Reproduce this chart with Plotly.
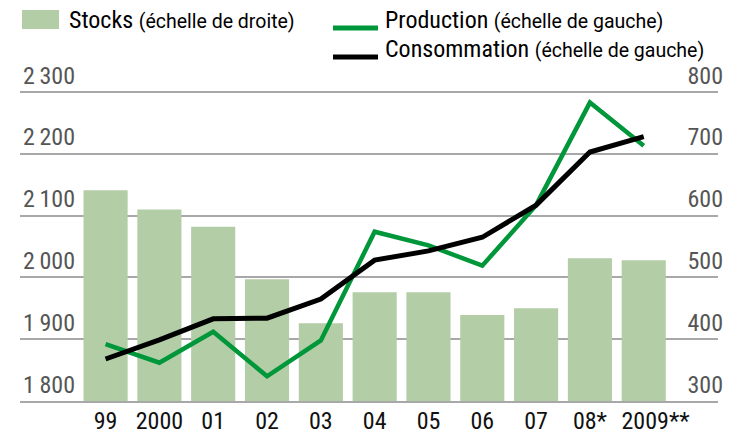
import plotly.graph_objects as go

# ---- data ----
categories = ["99", "2000", "01", "02", "03", "04", "05", "06", "07", "08*", "2009**"]
category_labels = ["99", "2000", "01", "02", "03", "04", "05", "06", "07", "08*",
                   "\u2007\u20072009**"]
stocks = [641, 610, 582, 497, 426, 476, 476, 439, 450, 531, 528]            # right scale
production = [1892, 1862, 1912, 1840, 1898, 2074, 2052, 2019, 2117, 2283, 2213]  # left scale
consommation = [1868, 1899, 1933, 1934, 1965, 2028, 2043, 2065, 2117, 2203, 2228]  # left scale
left_ticks = [1800, 1900, 2000, 2100, 2200, 2300]
left_ticktext = ["1\u2009800", "1\u2009900", "2\u2009000", "2\u2009100", "2\u2009200", "2\u2009300"]
right_ticks = [300, 400, 500, 600, 700, 800]

# the page body has an 8px default margin: figure is laid out in page coords minus 8
OFF = 8
W, H = 736 - OFF, 437 - OFF
ML, MR, MT, MB = 12, 18, 81, 36
PW, PH = W - ML - MR, H - MT - MB

def px(x):  # page pixel -> paper
    return (x - OFF - ML) / PW

def py(y):
    return (H - MB - (y - OFF)) / PH

FONT = "Roboto Condensed, Roboto, Liberation Sans, sans-serif"
SUBFONT = "Roboto, Liberation Sans, sans-serif"
BAR = "#b3cda6"
GREEN = "#00963a"
GRID = "#a8a8a8"

fig = go.Figure()
fig.add_trace(go.Bar(x=categories, y=stocks, marker=dict(color=BAR, line=dict(width=0)),
                     yaxis="y", name="Stocks"))
fig.add_trace(go.Scatter(x=categories, y=production, mode="lines", yaxis="y2",
                         line=dict(color=GREEN, width=4.5), name="Production"))
fig.add_trace(go.Scatter(x=categories, y=consommation, mode="lines", yaxis="y2",
                         line=dict(color="#000000", width=5), name="Consommation"))

fig.update_layout(
    width=W, height=H,
    margin=dict(l=ML, r=MR, t=MT, b=MB, autoexpand=False),
    paper_bgcolor="white", plot_bgcolor="white",
    showlegend=False, bargap=0.18,
    font=dict(family=FONT, color="#000"),
    xaxis=dict(type="category", range=[-1.59, 11.38], showgrid=False, zeroline=False,
               showline=True, linecolor=GRID, linewidth=1.5, ticks="", tickangle=0,
               automargin=False, tickmode="array", tickvals=categories, ticktext=category_labels,
               ticklabelstandoff=-3,
               tickfont=dict(size=24, color="#111", family=FONT)),
    yaxis=dict(side="right", range=[300, 805], tickvals=right_ticks, automargin=False,
               ticklabelposition="inside top", ticklabelstandoff=-8, ticklabeloverflow="allow",
               showgrid=True, gridcolor=GRID, gridwidth=1.5,
               zeroline=False, ticks="", tickfont=dict(size=24, color="#555", family=FONT)),
    yaxis2=dict(overlaying="y", side="left", range=[1800, 2305], tickvals=left_ticks,
                ticktext=left_ticktext, ticklabelposition="inside top", showgrid=False,
                automargin=False, ticklabeloverflow="allow",
                zeroline=False, ticks="", tickfont=dict(size=24, color="#555", family=FONT)),
)

# legend (manual)
shapes = [
    dict(type="rect", xref="paper", yref="paper", x0=px(22), x1=px(59), y0=py(29), y1=py(10),
         fillcolor=BAR, line=dict(width=0)),
    dict(type="line", xref="paper", yref="paper", x0=px(333), x1=px(378), y0=py(28), y1=py(28),
         line=dict(color=GREEN, width=5)),
    dict(type="line", xref="paper", yref="paper", x0=px(333), x1=px(378), y0=py(57), y1=py(57),
         line=dict(color="#000", width=5)),
]
fig.update_layout(shapes=shapes)

def leg(x, y, main, sub):
    fig.add_annotation(xref="paper", yref="paper", x=px(x), y=py(y), xanchor="left", yanchor="middle",
                       showarrow=False,
                       text=f"{main} <span style='font-size:19.5px;font-family:{SUBFONT}'>{sub}</span>",
                       font=dict(size=24, color="#000", family=FONT))

leg(67, 20, "Stocks", "(échelle de droite)")
leg(383, 20, "Production", "(échelle de gauche)")
leg(383, 49, "Consommation", "(échelle de gauche)")

fig.write_html("out.html")
